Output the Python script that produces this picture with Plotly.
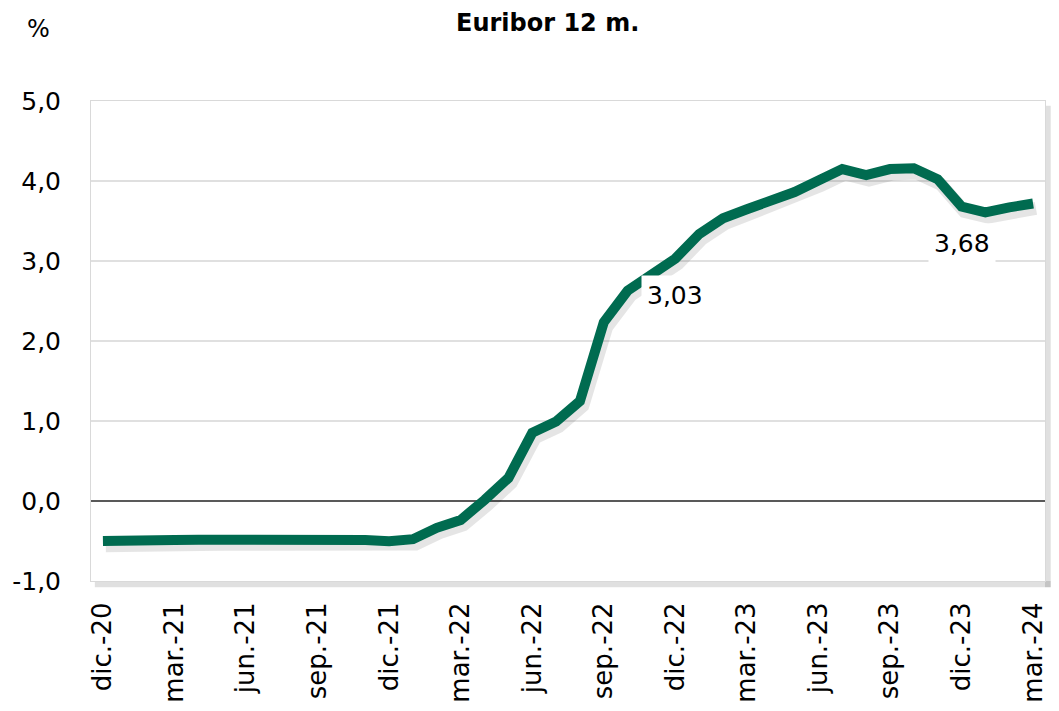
import plotly.graph_objects as go

months = ["dic.-20", "ene.-21", "feb.-21", "mar.-21", "abr.-21", "may.-21", "jun.-21", "jul.-21",
          "ago.-21", "sep.-21", "oct.-21", "nov.-21", "dic.-21", "ene.-22", "feb.-22", "mar.-22",
          "abr.-22", "may.-22", "jun.-22", "jul.-22", "ago.-22", "sep.-22", "oct.-22", "nov.-22",
          "dic.-22", "ene.-23", "feb.-23", "mar.-23", "abr.-23", "may.-23", "jun.-23", "jul.-23",
          "ago.-23", "sep.-23", "oct.-23", "nov.-23", "dic.-23", "ene.-24", "feb.-24", "mar.-24"]
euribor = [-0.50, -0.505, -0.501, -0.487, -0.484, -0.481, -0.484, -0.491,
           -0.498, -0.492, -0.477, -0.487, -0.502, -0.477, -0.335, -0.237,
           0.013, 0.287, 0.852, 0.992, 1.249, 2.233, 2.629, 2.828,
           3.03, 3.337, 3.534, 3.647, 3.757, 3.862, 4.007, 4.149,
           4.073, 4.149, 4.160, 4.022, 3.68, 3.609, 3.671, 3.718]
y_ticks = [-1, 0, 1, 2, 3, 4, 5]
y_ticklabels = ["-1,0", "0,0", "1,0", "2,0", "3,0", "4,0", "5,0"]
tick_every = 3
labelled = ["dic.-22", "dic.-23"]

x_idx = list(range(len(months)))
tickvals = x_idx[::tick_every]
ticktext = months[::tick_every]

FONT = "DejaVu Sans"
GREEN = "#006B50"

fig = go.Figure()
# soft shadow of the line (derived from the data)
fig.add_trace(go.Scatter(x=[i + 0.12 for i in x_idx], y=[v - 0.06 for v in euribor],
                         mode="lines", line=dict(color="rgba(0,0,0,0.10)", width=13),
                         hoverinfo="skip", showlegend=False))
fig.add_trace(go.Scatter(x=x_idx, y=euribor, mode="lines",
                         line=dict(color=GREEN, width=10), showlegend=False))

for m in labelled:
    i = months.index(m)
    v = euribor[i]
    fig.add_annotation(x=i, y=v, text=f"{v:.2f}".replace(".", ","), showarrow=False,
                       yshift=-37, bgcolor="white", font=dict(family=FONT, size=25, color="black"),
                       borderpad=5)

# page body adds an 8px offset; margins compensate so the plot area sits at 91..1045 x 101..581
fig.update_layout(
    width=1059, height=711,
    margin=dict(l=83, r=22, t=93, b=138),
    paper_bgcolor="white", plot_bgcolor="white",
    font=dict(family=FONT, color="black"),
    showlegend=False,
    xaxis=dict(range=[-0.5, len(months) - 0.5], tickmode="array", tickvals=tickvals,
               ticktext=ticktext, tickangle=-90, tickfont=dict(size=26, family=FONT),
               showgrid=False, zeroline=False, showline=True, linecolor="#d9d9d9",
               mirror=True, ticks="", ticklabelstandoff=10, automargin=False),
    yaxis=dict(range=[-1, 5], tickmode="array", tickvals=y_ticks, ticktext=y_ticklabels,
               tickfont=dict(size=25, family=FONT), showgrid=True, gridcolor="#e0e0e0",
               gridwidth=1.5, zeroline=True, zerolinecolor="#595959", zerolinewidth=2,
               showline=True, linecolor="#d9d9d9", mirror=True, ticks="",
               ticklabelstandoff=24, automargin=False),
)

# frame shadow (right and bottom)
fig.add_shape(type="rect", xref="paper", yref="paper", x0=0.004, x1=1.006, y0=-0.013, y1=0.0,
              fillcolor="rgba(0,0,0,0.12)", line_width=0, layer="below")
fig.add_shape(type="rect", xref="paper", yref="paper", x0=1.0, x1=1.006, y0=-0.013, y1=0.99,
              fillcolor="rgba(0,0,0,0.12)", line_width=0, layer="below")

fig.add_annotation(text="<b>Euribor 12 m.</b>", xref="paper", yref="paper",
                   x=(547 - 91) / 954, y=1 + (101 - 23) / 480, showarrow=False,
                   font=dict(family=FONT, size=24, color="black"), xanchor="center", yanchor="middle")
fig.add_annotation(text="%", xref="paper", yref="paper",
                   x=(38 - 91) / 954, y=1 + (101 - 29) / 480, showarrow=False,
                   font=dict(family=FONT, size=24, color="black"), xanchor="center", yanchor="middle")

fig.write_html("out.html")
